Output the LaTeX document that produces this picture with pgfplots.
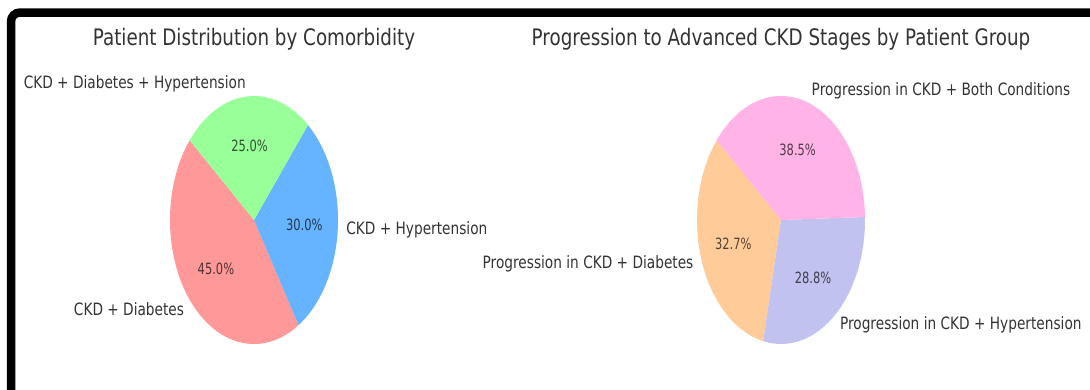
\documentclass[border=0pt]{standalone}
\usepackage{pgfplots}
\pgfplotsset{compat=1.18}
\usepackage{pgfplotstable}
\usepackage{fontspec}
\setmainfont{DejaVu Sans}
\newfontfamily\stretchfont{DejaVu Sans}[FakeStretch=0.806]
\newfontfamily\pctfontfam{DejaVu Sans}[FakeStretch=0.74]
\newcommand\titlefont{\stretchfont\fontsize{22.7}{27}\selectfont}
\newcommand\labelfont{\stretchfont\fontsize{17}{20}\selectfont}
\newcommand\pctfont{\pctfontfam\fontsize{15.5}{18}\selectfont}

\definecolor{cRed}{HTML}{FF9999}
\definecolor{cBlue}{HTML}{66B3FF}
\definecolor{cGreen}{HTML}{99FF99}
\definecolor{cOrange}{HTML}{FFCC99}
\definecolor{cPurple}{HTML}{C2C2F0}
\definecolor{cPink}{HTML}{FFB3E6}

\pgfplotstableread[col sep=comma,row sep=\\]{
label,value,color\\
CKD + Diabetes,45.0,cRed\\
CKD + Hypertension,30.0,cBlue\\
CKD + Diabetes + Hypertension,25.0,cGreen\\
}\leftdata

\pgfplotstableread[col sep=comma,row sep=\\]{
label,value,color\\
Progression in CKD + Diabetes,32.7,cOrange\\
Progression in CKD + Hypertension,28.8,cPurple\\
Progression in CKD + Both Conditions,38.5,cPink\\
}\rightdata

% #1 table, #2 start angle (counterclockwise slices, radius 1 in axis units)
\newcommand\drawpie[2]{%
  \xdef\pieA{#2}%
  \pgfplotstablegetrowsof{#1}%
  \pgfmathtruncatemacro\npie{\pgfplotsretval-1}%
  \foreach \k in {0,...,\npie}{%
    \pgfplotstablegetelem{\k}{value}\of#1\let\pv\pgfplotsretval
    \pgfplotstablegetelem{\k}{color}\of#1\let\pc\pgfplotsretval
    \pgfmathsetmacro\pieB{\pieA+3.6*\pv}%
    \edef\temp{%
      \noexpand\fill[\pc] (axis cs:0,0) -- ++(\pieA:84pt and 124pt)
        arc[start angle=\pieA, end angle=\pieB, x radius=84pt, y radius=124pt] -- cycle;%
    }\temp
    \xdef\pieA{\pieB}%
  }%
  \xdef\pieA{#2}%
  \foreach \k in {0,...,\npie}{%
    \pgfplotstablegetelem{\k}{value}\of#1\let\pv\pgfplotsretval
    \pgfplotstablegetelem{\k}{color}\of#1\let\pc\pgfplotsretval
    \pgfplotstablegetelem{\k}{label}\of#1\let\pl\pgfplotsretval
    \pgfmathsetmacro\pieB{\pieA+3.6*\pv}%
    \pgfmathsetmacro\pieM{(\pieA+\pieB)/2}%
    \pgfmathsetmacro\lx{1.1*cos(\pieM)}%
    \pgfmathsetmacro\ly{1.1*sin(\pieM)}%
    \pgfmathsetmacro\px{0.6*cos(\pieM)}%
    \pgfmathsetmacro\py{0.6*sin(\pieM)}%
    \pgfmathtruncatemacro\pos{cos(\pieM)>0}%
    \ifnum\pos=1 \def\anch{west}\else\def\anch{east}\fi
    \edef\temp{%
      \noexpand\node[anchor=\anch, inner sep=0pt, text=black!80, font=\noexpand\labelfont]
        at (axis cs:\lx,\ly) {\pl};%
      \noexpand\node[anchor=center, inner sep=0pt, text=\pc!32!black, font=\noexpand\pctfont]
        at (axis cs:\px,\py) {\pv\noexpand\%};%
    }\temp
    \xdef\pieA{\pieB}%
  }%
}

\pgfplotsset{
  pieaxis/.style={
    hide axis, anchor=center, x=84pt, y=124pt,
    xmin=-1, xmax=1, ymin=-1, ymax=1, clip=false,
    title style={font=\titlefont, text=black!80, anchor=base,
      at={(0.5,1)}, yshift=45pt, inner sep=0pt},
  }
}

\begin{document}
\begin{tikzpicture}
\useasboundingbox (0pt,-389pt) rectangle (1090pt,0pt);
\clip (0pt,-389pt) rectangle (1090pt,0pt);
\fill[white] (0pt,-389pt) rectangle (1090pt,0pt);

\begin{axis}[pieaxis, at={(254pt,-220pt)},
  title={Patient Distribution by Comorbidity}]
  \drawpie{\leftdata}{140}
\end{axis}

\begin{axis}[pieaxis, at={(781pt,-220pt)},
  title={Progression to Advanced CKD Stages by Patient Group}]
  \drawpie{\rightdata}{140}
\end{axis}

\draw[line width=8.5pt, rounded corners=9pt] (11pt,-400pt) -- (11pt,-12.5pt) -- (1100pt,-12.5pt);
\end{tikzpicture}
\end{document}
